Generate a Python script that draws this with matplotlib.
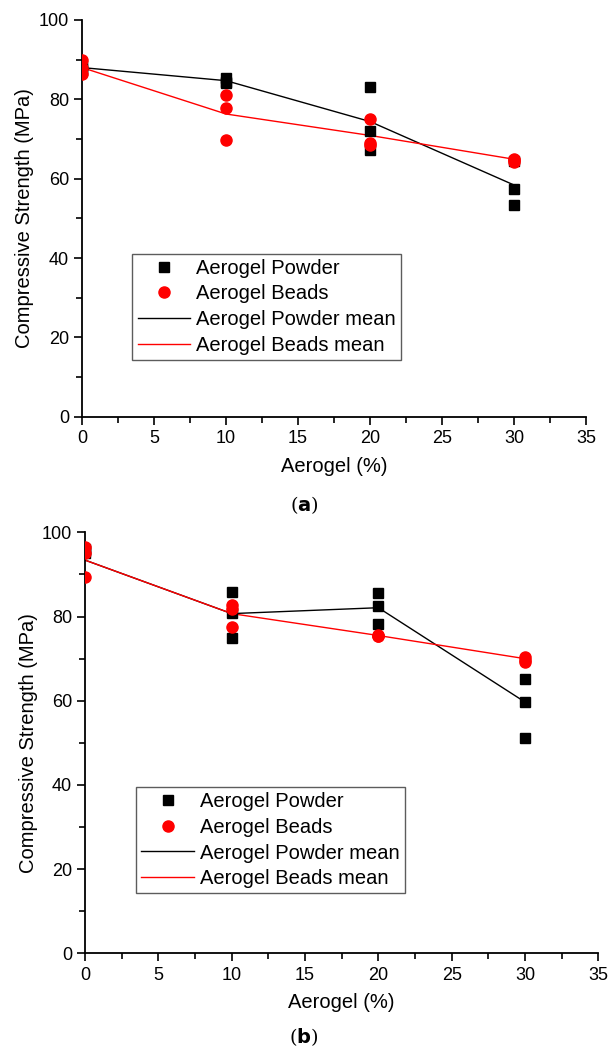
import numpy as np
import matplotlib.pyplot as plt
from matplotlib.ticker import MultipleLocator

plt.rcParams['font.family'] = ['Liberation Sans', 'DejaVu Sans']

aerogel = [0, 10, 20, 30]

# panel (a) samples: three specimens per dosage
a_powder = [[88.0, 88.5, 87.5], [85.5, 84.4, 84.0], [83.0, 71.9, 67.3], [57.3, 53.3, 64.5]]
a_beads = [[89.8, 88.0, 86.5], [81.0, 77.9, 69.8], [75.0, 69.1, 68.5], [64.3, 65.0, 64.6]]
a_powder_mean = [88.0, 84.7, 74.4, 58.4]
a_beads_mean = [88.0, 76.3, 70.9, 64.9]

# panel (b)
b_powder = [[95.5, 95.0, 96.0], [85.8, 80.8, 74.8], [85.6, 82.4, 78.3], [65.1, 59.7, 51.2]]
b_beads = [[96.5, 95.0, 89.5], [82.7, 81.9, 77.5], [75.5, 75.3, 75.6], [70.5, 69.6, 69.3]]
b_powder_mean = [93.4, 80.7, 82.1, 59.7]
b_beads_mean = [93.4, 80.7, 75.5, 70.0]

fig = plt.figure(figsize=(6.08, 10.5), dpi=100)
ax1 = fig.add_axes([0.135, 0.603, 0.829, 0.378])
ax2 = fig.add_axes([0.14, 0.092, 0.844, 0.401])


def draw(ax, powder, beads, pmean, bmean, leg_box):
    xs_p = np.repeat(aerogel, 3)
    ax.plot(xs_p, np.ravel(powder), 's', color='black', markersize=7,
            linestyle='none', label='Aerogel Powder', zorder=3)
    ax.plot(xs_p, np.ravel(beads), 'o', color='red', markersize=8,
            linestyle='none', label='Aerogel Beads', zorder=4)
    ax.plot(aerogel, pmean, color='black', lw=1, label='Aerogel Powder mean', zorder=2)
    ax.plot(aerogel, bmean, color='red', lw=1, label='Aerogel Beads mean', zorder=2)
    ax.set_xlim(0, 35)
    ax.set_ylim(0, 100)
    ax.xaxis.set_major_locator(MultipleLocator(5))
    ax.xaxis.set_minor_locator(MultipleLocator(2.5))
    ax.yaxis.set_major_locator(MultipleLocator(20))
    ax.yaxis.set_minor_locator(MultipleLocator(10))
    ax.tick_params(which='major', direction='out', length=6, width=1.2, labelsize=13)
    ax.tick_params(which='minor', direction='out', length=4, width=1.2)
    for s in ['top', 'right']:
        ax.spines[s].set_visible(False)
    for s in ['left', 'bottom']:
        ax.spines[s].set_linewidth(1.3)
        ax.spines[s].set_clip_on(False)
    ax.set_xlabel('Aerogel (%)', fontsize=14.5, labelpad=7)
    ax.set_ylabel('Compressive Strength (MPa)', fontsize=14.5, labelpad=3)
    leg = ax.legend(loc='lower left', bbox_to_anchor=leg_box, fontsize=14.5,
                    frameon=True, fancybox=False, edgecolor='#333333',
                    handlelength=2.6, handletextpad=0.3, borderpad=0.25,
                    labelspacing=0.33, borderaxespad=0)
    leg.get_frame().set_linewidth(1.0)


draw(ax1, a_powder, a_beads, a_powder_mean, a_beads_mean, (0.10, 0.144))
draw(ax2, b_powder, b_beads, b_powder_mean, b_beads_mean, (0.10, 0.143))

fig.text(0.5, 1 - 505 / 1050, r'($\mathbf{a}$)', ha='center', va='center',
         fontsize=14, family='DejaVu Serif')
fig.text(0.5, 1 - 1037 / 1050, r'($\mathbf{b}$)', ha='center', va='center',
         fontsize=14, family='DejaVu Serif')

fig.savefig('out.png', dpi=100)
